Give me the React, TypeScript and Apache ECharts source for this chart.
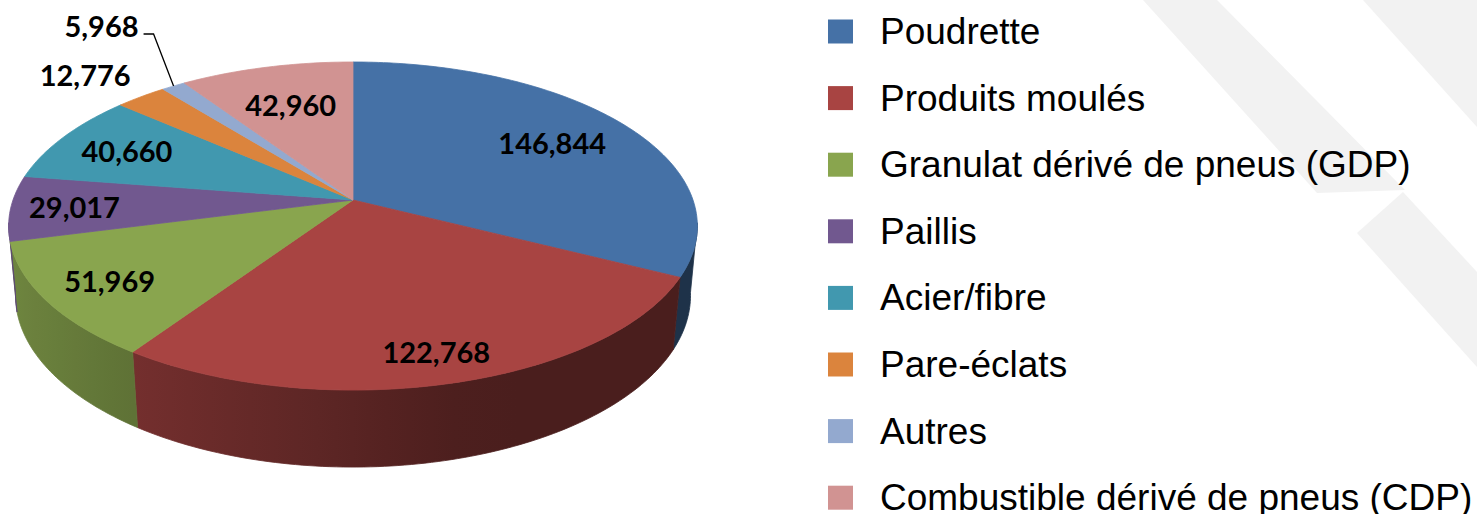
import React, { useEffect, useRef } from "react";
import * as echarts from "echarts";

// ---- data ----
const NAMES = [
  "Poudrette",
  "Produits moulés",
  "Granulat dérivé de pneus (GDP)",
  "Paillis",
  "Acier/fibre",
  "Pare-éclats",
  "Autres",
  "Combustible dérivé de pneus (CDP)",
];
const VALUES = [146844, 122768, 51969, 29017, 40660, 12776, 5968, 42960];
const COLORS = ["#4571A6", "#A84442", "#89A54E", "#71588F", "#4198AF", "#DB843D", "#93A9CF", "#D19392"];

// label placement (style only): inside / outside / leader, and radial position of inside labels
const LABEL_MODE = ["in", "in", "in", "in", "in", "out", "leader", "in"];
const LABEL_R = [0.73, 0.85, 0.81, 0.815, 0.77, 1, 1, 0.69];

// ---- 3D projection settings ----
const DEG = Math.PI / 180;
const SIN_E = 0.4703;
const COS_E = 0.8825;
const DIST = 5.564;
const SCALE = 340;
const CX = 353;
const CY = 200;
const DEPTH = 0.2336;
const WALL_MIN = 98 * DEG;
const WALL_MAX = 262 * DEG;

const TOTAL = VALUES.reduce((s, v) => s + v, 0);
const STARTS: number[] = [];
VALUES.reduce((acc, v, i) => {
  STARTS[i] = acc;
  return acc + v;
}, 0);

function proj(a: number, r: number, h: number): number[] {
  const x = r * Math.sin(a);
  const z = r * Math.cos(a);
  const yv = h * COS_E + z * SIN_E;
  const dv = z * COS_E - h * SIN_E;
  const s = (SCALE * DIST) / (DIST + dv);
  return [CX + x * s, CY - yv * s];
}

function shade(hex: string, f: number): string {
  const n = parseInt(hex.slice(1), 16);
  const r = Math.round(((n >> 16) & 255) * f);
  const g = Math.round(((n >> 8) & 255) * f);
  const b = Math.round((n & 255) * f);
  return `rgb(${r},${g},${b})`;
}

function wallFactor(a: number): number {
  return Math.max(0.44, Math.min(0.85, 0.53 - 0.29 * Math.sin(a)));
}

const fmt = (v: number) => v.toLocaleString("en-US");

function renderSlice(i: number, value: number) {
  const color = COLORS[i];
  const a0 = (STARTS[i] / TOTAL) * 2 * Math.PI;
  const a1 = a0 + (value / TOTAL) * 2 * Math.PI;
  const children: any[] = [];

  // side wall
  const lo = Math.max(a0, WALL_MIN);
  const hi = Math.min(a1, WALL_MAX);
  if (hi > lo) {
    const n = Math.max(2, Math.ceil((hi - lo) / DEG));
    const pts: number[][] = [];
    for (let k = 0; k <= n; k++) pts.push(proj(lo + ((hi - lo) * k) / n, 1, 0));
    for (let k = n; k >= 0; k--) pts.push(proj(lo + ((hi - lo) * k) / n, 1, -DEPTH));
    const xs = pts.map((p) => p[0]);
    const xMin = Math.min(...xs);
    const xMax = Math.max(...xs);
    const stops: any[] = [];
    for (let k = 0; k <= 10; k++) {
      const a = lo + ((hi - lo) * k) / 10;
      const X = proj(a, 1, 0)[0];
      stops.push({ offset: xMax > xMin ? (X - xMin) / (xMax - xMin) : 0, color: shade(color, wallFactor(a)) });
    }
    stops.sort((p, q) => p.offset - q.offset);
    const fill = {
      type: "linear",
      x: xMin,
      y: 0,
      x2: xMax,
      y2: 0,
      global: true,
      colorStops: stops,
    };
    children.push({
      type: "polygon",
      z2: 1,
      shape: { points: pts },
      style: { fill, stroke: fill, lineWidth: 0.8 },
    });
  }

  // top surface
  const n = Math.max(2, Math.ceil((a1 - a0) / DEG));
  const top: number[][] = [proj(0, 0, 0)];
  for (let k = 0; k <= n; k++) top.push(proj(a0 + ((a1 - a0) * k) / n, 1, 0));
  children.push({
    type: "polygon",
    z2: 5,
    shape: { points: top },
    style: { fill: color, stroke: color, lineWidth: 0.8 },
  });

  // label
  const mid = (a0 + a1) / 2;
  const textStyle = {
    text: fmt(value),
    fill: "#000",
    fontFamily: "Lato, 'Open Sans', sans-serif",
    fontWeight: "bold",
    fontSize: 29,
  };
  const mode = LABEL_MODE[i];
  if (mode === "in") {
    const p = proj(mid, LABEL_R[i], 0);
    children.push({
      type: "text",
      z2: 10,
      x: p[0],
      y: p[1],
      style: { ...textStyle, align: "center", verticalAlign: "middle" },
    });
  } else if (mode === "out") {
    const p = proj(mid, LABEL_R[i], 0);
    children.push({
      type: "text",
      z2: 10,
      x: p[0] - 56,
      y: p[1] - 22,
      style: { ...textStyle, align: "center", verticalAlign: "middle" },
    });
  } else {
    const p = proj(mid, LABEL_R[i], 0);
    const elbow = [p[0] - 20, p[1] - 52];
    const end = [elbow[0] - 10, elbow[1]];
    children.push({
      type: "polyline",
      z2: 10,
      shape: { points: [p, elbow, end] },
      style: { stroke: "#000", lineWidth: 1.3, fill: null },
    });
    children.push({
      type: "text",
      z2: 10,
      x: end[0] - 5,
      y: end[1] - 9,
      style: { ...textStyle, align: "right", verticalAlign: "middle" },
    });
  }

  return { type: "group", children };
}

export default function App() {
  const ref = useRef<HTMLDivElement>(null);
  useEffect(() => {
    if (!ref.current) return;
    const chart = echarts.init(ref.current, null, { renderer: "svg" });
    const bg = "#f2f2f2";
    chart.setOption({
      animation: false,
      backgroundColor: "#ffffff",
      color: COLORS,
      graphic: [
        { type: "polygon", z: -10, silent: true, shape: { points: [[1143, 0], [1217, 0], [1405, 190], [1317, 193]] }, style: { fill: bg } },
        { type: "polygon", z: -10, silent: true, shape: { points: [[1357, 233], [1403, 192], [1477, 272], [1477, 367]] }, style: { fill: bg } },
        { type: "polygon", z: -10, silent: true, shape: { points: [[1363, 0], [1477, 0], [1477, 127]] }, style: { fill: bg } },
      ],
      legend: {
        orient: "vertical",
        left: 823,
        top: 8,
        itemWidth: 25,
        itemHeight: 24,
        itemGap: 29.6,
        icon: "rect",
        selectedMode: false,
        data: NAMES,
        textStyle: {
          fontFamily: "'Liberation Sans', Arial, sans-serif",
          fontSize: 37,
          color: "#000",
          padding: [0, 0, 0, 22],
        },
      },
      series: NAMES.map((name, i) => ({
        type: "custom",
        name,
        coordinateSystem: "none",
        silent: true,
        itemStyle: { color: COLORS[i] },
        data: [[VALUES[i]]],
        renderItem: (_params: any, api: any) => renderSlice(i, api.value(0)),
      })),
    });
    return () => chart.dispose();
  }, []);
  // The chart is a little taller than the window so that the last legend row
  // (which the reference shows clipped at the bottom edge) is not wrapped.
  return (
    <div
      ref={ref}
      style={{ position: "fixed", left: 0, top: 0, width: 1477, height: 560 }}
    />
  );
}
